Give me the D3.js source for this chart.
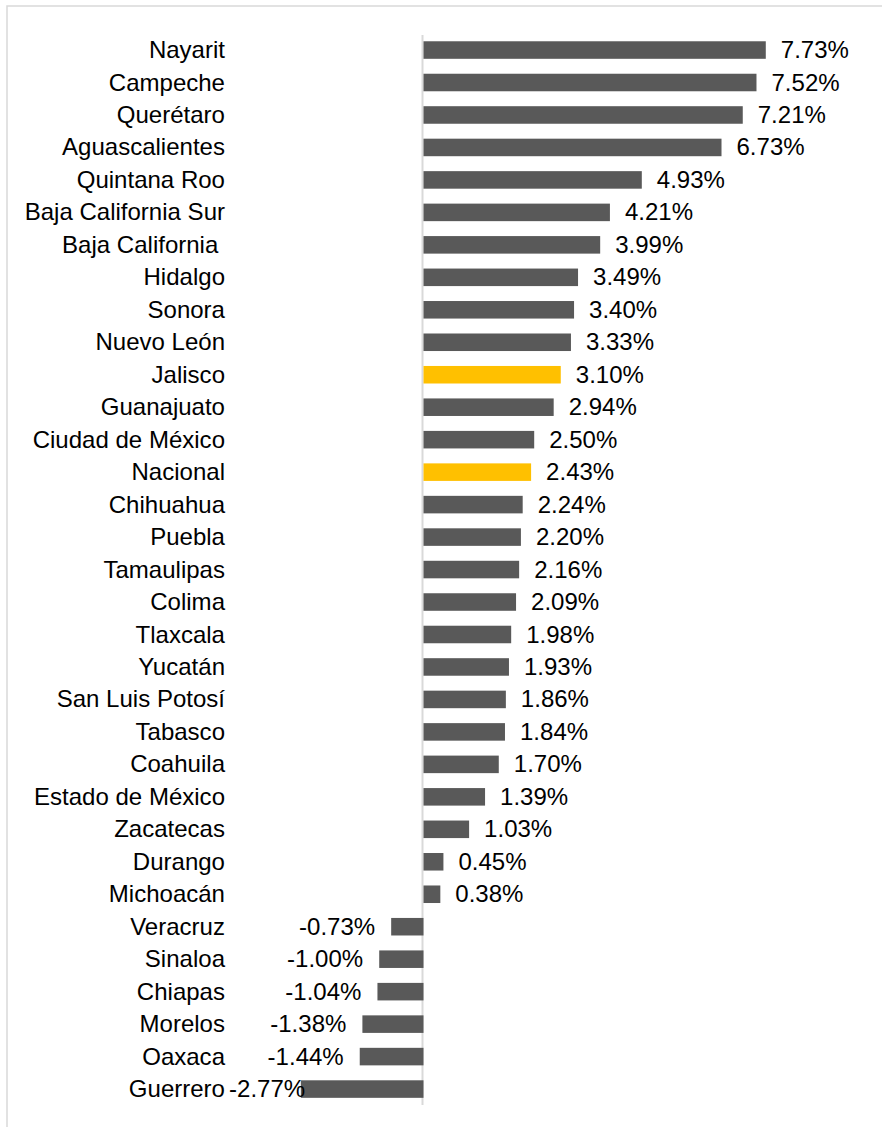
<!DOCTYPE html>
<html>
<head>
    <script src="https://cdnjs.cloudflare.com/ajax/libs/d3/7.8.5/d3.min.js"></script>
    <style>
        body { margin: 0; background: #fff; }
        text {
            font-family: "Liberation Sans", Arial, sans-serif;
            font-size: 23px;
            fill: #000;
            white-space: pre;
        }
    </style>
</head>
<body>
    <div id="chart"></div>
    <script>
        const width = 882, height = 1127;

        const states = ["Nayarit", "Campeche", "Querétaro", "Aguascalientes", "Quintana Roo",
            "Baja California Sur", "Baja California ", "Hidalgo", "Sonora", "Nuevo León",
            "Jalisco", "Guanajuato", "Ciudad de México", "Nacional", "Chihuahua", "Puebla",
            "Tamaulipas", "Colima", "Tlaxcala", "Yucatán", "San Luis Potosí", "Tabasco",
            "Coahuila", "Estado de México", "Zacatecas", "Durango", "Michoacán", "Veracruz",
            "Sinaloa", "Chiapas", "Morelos", "Oaxaca", "Guerrero"];
        const growth = [7.73, 7.52, 7.21, 6.73, 4.93, 4.21, 3.99, 3.49, 3.40, 3.33,
            3.10, 2.94, 2.50, 2.43, 2.24, 2.20, 2.16, 2.09, 1.98, 1.93, 1.86, 1.84,
            1.70, 1.39, 1.03, 0.45, 0.38, -0.73, -1.00, -1.04, -1.38, -1.44, -2.77];
        const highlighted = ["Jalisco", "Nacional"];

        const svg = d3.select("#chart").append("svg")
            .attr("width", width).attr("height", height);

        // light frame (extends past right/bottom edges)
        svg.append("rect")
            .attr("x", 7).attr("y", 6)
            .attr("width", 900).attr("height", 1150)
            .attr("fill", "none")
            .attr("stroke", "#d9d9d9")
            .attr("stroke-width", 1.5);

        const pxPerUnit = 44.28, zero = 423.5;
        const x = d3.scaleLinear()
            .domain([-3, 8])
            .range([zero - 3 * pxPerUnit, zero + 8 * pxPerUnit]);

        const y = d3.scaleBand()
            .domain(states)
            .range([33.8, 1105.3])
            .paddingInner(0.46)
            .paddingOuter(0.23);

        const plotLeft = 229;
        const stretch = 1.045; // text in the original is slightly wide
        const data = states.map((s, i) => ({ name: s, value: growth[i] }));
        const place = (sel, px, py) => sel.attr("transform", `translate(${px},${py}) scale(${stretch},1)`);

        // zero axis line
        svg.append("line")
            .attr("x1", x(0) - 1).attr("x2", x(0) - 1)
            .attr("y1", 35).attr("y2", 1105)
            .attr("stroke", "#d9d9d9")
            .attr("stroke-width", 2);

        svg.append("g")
            .selectAll("rect")
            .data(data)
            .enter().append("rect")
            .attr("x", d => x(Math.min(0, d.value)))
            .attr("y", d => y(d.name))
            .attr("width", d => Math.abs(x(d.value) - x(0)))
            .attr("height", y.bandwidth())
            .attr("fill", d => highlighted.includes(d.name) ? "#ffc000" : "#595959");

        // category labels
        svg.append("g")
            .selectAll("text")
            .data(data)
            .enter().append("text")
            .attr("dy", "0.35em")
            .attr("text-anchor", "end")
            .text(d => d.name)
            .each(function(d) {
                place(d3.select(this), 225, y(d.name) + y.bandwidth() / 2);
            });

        // value labels
        const fmt = d => d.toFixed(2) + "%";
        svg.append("g")
            .selectAll("text")
            .data(data)
            .enter().append("text")
            .attr("dy", "0.35em")
            .text(d => fmt(d.value))
            .each(function(d) {
                const t = d3.select(this);
                const cy = y(d.name) + y.bandwidth() / 2;
                if (d.value >= 0) {
                    t.attr("text-anchor", "start");
                    place(t, x(d.value) + 15, cy);
                } else {
                    const w = this.getComputedTextLength() * stretch;
                    let end = x(d.value) - 16;
                    if (end - w < plotLeft) end = plotLeft + w;
                    t.attr("text-anchor", "end");
                    place(t, end, cy);
                }
            });
    </script>
</body>
</html>
